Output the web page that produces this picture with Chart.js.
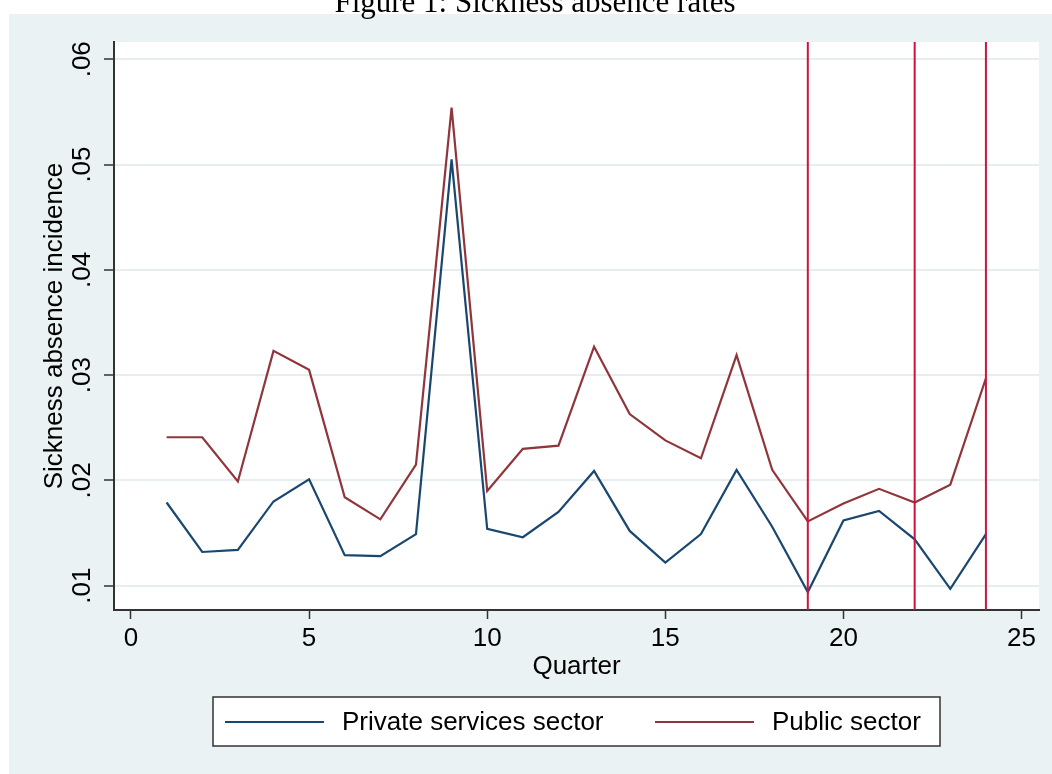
<!DOCTYPE html>
<html>
<head>
<meta charset="utf-8">
<script src="https://cdn.jsdelivr.net/npm/chart.js@4.4.1/dist/chart.umd.min.js"></script>
<style>
  html, body { margin: 0; padding: 0; background: #ffffff; }
  #wrap { width: 1052px; height: 774px; }
</style>
</head>
<body>
<div id="wrap"><canvas id="c" width="1052" height="774"></canvas></div>
<script>
// Quarterly sickness absence incidence by sector
const quarters = [1, 2, 3, 4, 5, 6, 7, 8, 9, 10, 11, 12, 13, 14, 15, 16, 17, 18, 19, 20, 21, 22, 23, 24];
const privateServices = [0.0179, 0.0132, 0.0134, 0.0180, 0.0201, 0.0129, 0.0128, 0.0149, 0.0505, 0.0154, 0.0146, 0.0170,
                         0.0209, 0.0152, 0.0122, 0.0149, 0.0210, 0.0156, 0.0094, 0.0162, 0.0171, 0.0144, 0.0097, 0.0149];
const publicSector =    [0.0241, 0.0241, 0.0199, 0.0323, 0.0305, 0.0184, 0.0163, 0.0215, 0.0554, 0.0190, 0.0230, 0.0233,
                         0.0327, 0.0263, 0.0238, 0.0221, 0.0319, 0.0210, 0.0161, 0.0178, 0.0192, 0.0179, 0.0196, 0.0297];
// Quarters marked with reference lines
const markedQuarters = [19, 22, 24];

const xTicks = [0, 5, 10, 15, 20, 25];
const yTicks = [0.01, 0.02, 0.03, 0.04, 0.05, 0.06];
const yTickLabels = ['.01', '.02', '.03', '.04', '.05', '.06'];

const seriesLabels = ['Private services sector', 'Public sector'];
const titleText = 'Figure 1: Sickness absence rates';
const xTitle = 'Quarter';
const yTitle = 'Sickness absence incidence';

const SANS = "'Liberation Sans', Arial, Helvetica, sans-serif";
const SERIF = "'Liberation Serif', 'Times New Roman', serif";
const BG = '#eaf2f3';
const AXIS = '#333333';

const toPoints = vals => quarters.map((q, i) => ({ x: q, y: vals[i] }));

const decor = {
  id: 'decor',
  beforeDraw(chart) {
    const ctx = chart.ctx, a = chart.chartArea;
    ctx.save();
    ctx.fillStyle = '#ffffff';
    ctx.fillRect(0, 0, chart.width, chart.height);
    ctx.fillStyle = BG;
    ctx.fillRect(9, 14, chart.width - 9, chart.height - 14);
    ctx.fillStyle = '#ffffff';
    ctx.fillRect(a.left, a.top, a.right - a.left, a.bottom - a.top);
    ctx.restore();
  },
  afterDatasetsDraw(chart) {
    const ctx = chart.ctx, a = chart.chartArea, xs = chart.scales.x;
    ctx.save();
    ctx.strokeStyle = '#cd143c';
    ctx.lineWidth = 2;
    markedQuarters.forEach(q => {
      const px = xs.getPixelForValue(q);
      ctx.beginPath();
      ctx.moveTo(px, a.top);
      ctx.lineTo(px, a.bottom);
      ctx.stroke();
    });
    ctx.restore();
  },
  afterDraw(chart) {
    const ctx = chart.ctx, a = chart.chartArea;
    const xs = chart.scales.x, ys = chart.scales.y;
    ctx.save();
    ctx.fillStyle = '#000000';

    // title
    ctx.font = '31px ' + SERIF;
    ctx.textAlign = 'center';
    ctx.textBaseline = 'alphabetic';
    ctx.fillText(titleText, 535, 12);

    // x tick labels and title
    ctx.font = '26px ' + SANS;
    xTicks.forEach(v => ctx.fillText(String(v), xs.getPixelForValue(v), 646));
    ctx.fillText(xTitle, (a.left + a.right) / 2, 674);

    // y tick labels, rotated
    yTicks.forEach((v, i) => {
      ctx.save();
      ctx.translate(90, ys.getPixelForValue(v));
      ctx.rotate(-Math.PI / 2);
      ctx.fillText(yTickLabels[i], 0, 0);
      ctx.restore();
    });
    ctx.save();
    ctx.translate(62, (a.top + a.bottom) / 2);
    ctx.rotate(-Math.PI / 2);
    ctx.fillText(yTitle, 0, 0);
    ctx.restore();

    // legend box
    const lx = 213, ly = 697, lw = 727, lh = 49;
    ctx.fillStyle = '#ffffff';
    ctx.fillRect(lx, ly, lw, lh);
    ctx.strokeStyle = AXIS;
    ctx.lineWidth = 1.5;
    ctx.strokeRect(lx, ly, lw, lh);
    const items = [{ x0: 225, x1: 324, tx: 342 }, { x0: 655, x1: 754, tx: 772 }];
    chart.data.datasets.forEach((ds, i) => {
      const it = items[i];
      ctx.strokeStyle = ds.borderColor;
      ctx.lineWidth = 2.2;
      ctx.beginPath();
      ctx.moveTo(it.x0, 722);
      ctx.lineTo(it.x1, 722);
      ctx.stroke();
      ctx.fillStyle = '#000000';
      ctx.textAlign = 'left';
      ctx.fillText(ds.label, it.tx, 730);
    });
    ctx.restore();
  }
};

new Chart(document.getElementById('c'), {
  type: 'line',
  data: {
    datasets: [
      { label: seriesLabels[0], data: toPoints(privateServices), borderColor: '#1a476f', borderWidth: 2.2,
        pointRadius: 0, tension: 0, fill: false },
      { label: seriesLabels[1], data: toPoints(publicSector), borderColor: '#90353b', borderWidth: 2.2,
        pointRadius: 0, tension: 0, fill: false }
    ]
  },
  options: {
    responsive: false,
    animation: false,
    devicePixelRatio: 1,
    layout: { padding: { left: 0, top: 42, right: 13, bottom: 0 } },
    plugins: { legend: { display: false }, title: { display: false }, tooltip: { enabled: false } },
    scales: {
      x: {
        type: 'linear',
        min: -0.477,
        max: 25.49,
        afterBuildTicks: s => { s.ticks = xTicks.map(v => ({ value: v })); },
        afterFit: s => { s.height = 164; },
        ticks: { display: false },
        grid: { drawOnChartArea: false, drawTicks: true, tickLength: 9, tickColor: AXIS, tickWidth: 1.5 },
        border: { display: true, color: AXIS, width: 2 }
      },
      y: {
        type: 'linear',
        min: 0.00769,
        max: 0.06164,
        afterBuildTicks: s => { s.ticks = yTicks.map(v => ({ value: v })); },
        afterFit: s => { s.width = 114; },
        ticks: { display: false },
        grid: { color: '#e6eef0', lineWidth: 2, drawTicks: true, tickLength: 10, tickColor: AXIS, tickWidth: 1.5 },
        border: { display: true, color: AXIS, width: 2 }
      }
    }
  },
  plugins: [decor]
});
</script>
</body>
</html>
